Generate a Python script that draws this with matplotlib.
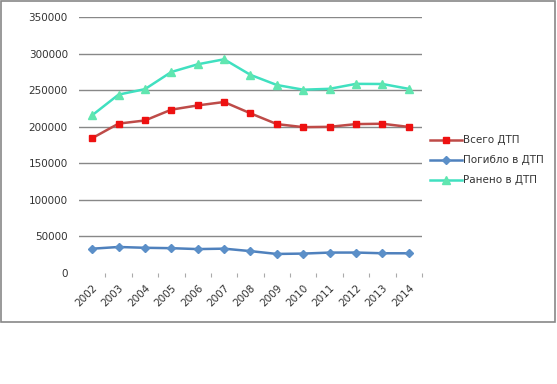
import matplotlib
matplotlib.use("Agg")
import matplotlib.pyplot as plt
from matplotlib.patches import Rectangle

plt.rcParams['font.family'] = ['DejaVu Sans']

# данные по ДТП
years = ['2002', '2003', '2004', '2005', '2006', '2007', '2008',
         '2009', '2010', '2011', '2012', '2013', '2014']
vsego = [184365, 204267, 208558, 223342, 229140, 233809, 218322,
         203603, 199431, 199868, 203597, 204068, 199720]
pogiblo = [33243, 35602, 34506, 33957, 32724, 33308, 29936,
           26084, 26567, 27953, 27991, 27025, 26963]
raneno = [215678, 243919, 251386, 274864, 285362, 292206, 270883,
          257034, 250635, 251848, 258618, 258437, 251785]
y_ticks = [0, 50000, 100000, 150000, 200000, 250000, 300000, 350000]

fig = plt.figure(figsize=(5.57, 3.84), dpi=100)
ax = fig.add_axes([0.1418, 0.289, 0.6158, 0.6667])

x = list(range(len(years)))
ax.plot(x, vsego, color='#BE4B48', lw=1.8, marker='s', ms=5,
        mfc='#EE1111', mec='#EE1111', label='Всего ДТП')
ax.plot(x, pogiblo, color='#4F81BD', lw=1.8, marker='D', ms=4.5,
        mfc='#5B8FC8', mec='#5B8FC8', label='Погибло в ДТП')
ax.plot(x, raneno, color='#40E0C0', lw=1.8, marker='^', ms=6,
        mfc='#60E6B0', mec='#60E6B0', label='Ранено в ДТП')

ax.set_xlim(-0.5, len(years) - 0.5)
ax.set_ylim(0, 350000)
ax.set_yticks(y_ticks)
ax.set_yticklabels([str(v) for v in y_ticks])
ax.set_xticks(x)
ax.set_xticklabels(years, rotation=45, ha='right', rotation_mode='anchor')
ax.set_xticks([i + 0.5 for i in range(len(years))], minor=True)

# линии сетки без нулевой
for v in y_ticks[1:]:
    ax.axhline(v, color='#888888', lw=1, zorder=0)
for s in ax.spines.values():
    s.set_visible(False)
ax.tick_params(axis='y', length=0, pad=8, labelsize=7.5, labelcolor='#333333')
ax.tick_params(axis='x', which='major', length=0, pad=7, labelsize=7.5,
               labelcolor='#333333')
ax.tick_params(axis='x', which='minor', length=3, width=0.8, color='#aaaaaa',
               direction='out', pad=0)

leg = ax.legend(loc='center left', bbox_to_anchor=(1.0, 0.44), frameon=False,
                fontsize=7.5, handlelength=3.0, handletextpad=0.1,
                labelspacing=0.95, borderaxespad=0.4)
for t in leg.get_texts():
    t.set_color('#333333')

# рамка вокруг диаграммы
fig.patches.append(Rectangle((0.002, 1 - 322 / 384), 0.995, 322 / 384 - 0.002,
                             transform=fig.transFigure, fill=False,
                             ec='#888888', lw=1.2))

fig.savefig('out.png', dpi=100)
